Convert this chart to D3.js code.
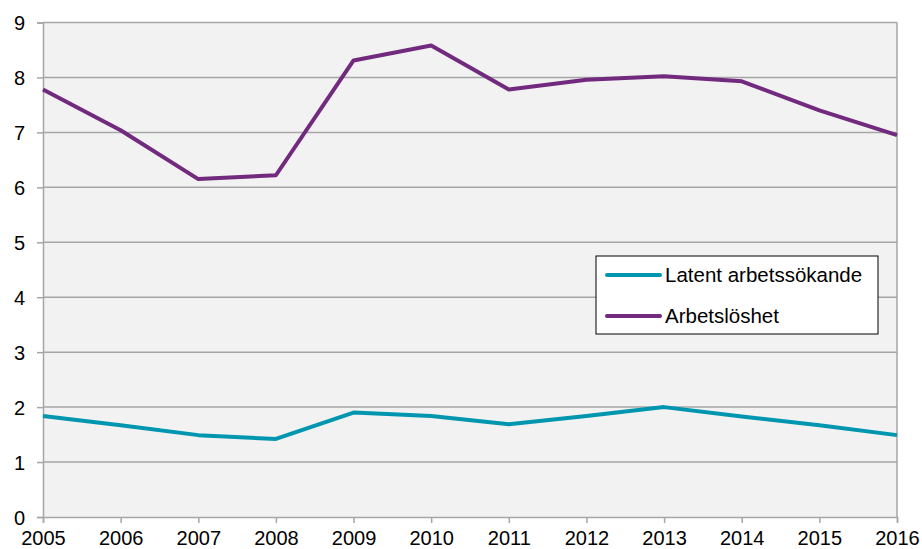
<!DOCTYPE html>
<html>
<head>
<meta charset="utf-8">
<script src="https://cdn.jsdelivr.net/npm/d3@7"></script>
<style>
  body { margin: 0; background: #fff; }
  text { font-family: "Liberation Sans", Arial, sans-serif; }
</style>
</head>
<body>
<svg id="chart" width="922" height="549"></svg>
<script>
// data
var years = [2005, 2006, 2007, 2008, 2009, 2010, 2011, 2012, 2013, 2014, 2015, 2016];
var latent = [1.84, 1.67, 1.49, 1.42, 1.90, 1.84, 1.69, 1.84, 2.00, 1.83, 1.67, 1.49];
var arbetsloshet = [7.78, 7.04, 6.15, 6.22, 8.31, 8.58, 7.78, 7.96, 8.02, 7.93, 7.40, 6.95];
var yTicks = [0, 1, 2, 3, 4, 5, 6, 7, 8, 9];
var seriesNames = ["Latent arbetssökande", "Arbetslöshet"];
var seriesColors = ["#0096b0", "#722a7e"];

var margin = {top: 22.5, right: 25, bottom: 32, left: 43};
var width = 922 - margin.left - margin.right,
    height = 549 - margin.top - margin.bottom;

var svg = d3.select("#chart");
var g = svg.append("g")
    .attr("transform", "translate(" + margin.left + "," + margin.top + ")");

var x = d3.scalePoint().domain(years).range([0, width]);
var y = d3.scaleLinear().domain([0, 9]).range([height, 0]);

// plot background
g.append("rect")
    .attr("width", width)
    .attr("height", height)
    .attr("fill", "#f2f2f2");

// gridlines
g.selectAll(".grid")
    .data(yTicks.filter(function(d) { return d > 0; }))
    .enter().append("line")
    .attr("x1", 0)
    .attr("x2", width)
    .attr("y1", function(d) { return y(d); })
    .attr("y2", function(d) { return y(d); })
    .attr("stroke", "#a6a6a6")
    .attr("stroke-width", 1.5);

// right border
g.append("line")
    .attr("x1", width).attr("x2", width)
    .attr("y1", 0).attr("y2", height)
    .attr("stroke", "#a6a6a6").attr("stroke-width", 1.5);

// y axis
var yAxis = g.append("g")
    .call(d3.axisLeft(y).tickValues(yTicks).tickSize(6).tickPadding(12).tickFormat(d3.format("d")));

// x axis
var xAxis = g.append("g")
    .attr("transform", "translate(0," + height + ")")
    .call(d3.axisBottom(x).tickSize(6).tickPadding(8).tickFormat(d3.format("d")));

[yAxis, xAxis].forEach(function(ax) {
    ax.select(".domain").attr("stroke", "#a6a6a6").attr("stroke-width", 1.5);
    ax.selectAll(".tick line").attr("stroke", "#a6a6a6").attr("stroke-width", 1.5);
    ax.selectAll("text")
        .attr("fill", "#000")
        .style("font-size", "20px")
        .style("font-family", "'Liberation Sans', Arial, sans-serif");
});
yAxis.selectAll("text").attr("dy", "0.36em");

// lines
var line = d3.line()
    .x(function(d, i) { return x(years[i]); })
    .y(function(d) { return y(d); });

[latent, arbetsloshet].forEach(function(vals, i) {
    g.append("path")
        .datum(vals)
        .attr("fill", "none")
        .attr("stroke", seriesColors[i])
        .attr("stroke-width", 4)
        .attr("stroke-linejoin", "round")
        .attr("d", line);
});

// legend
var legend = svg.append("g").attr("transform", "translate(596,256)");
legend.append("rect")
    .attr("width", 282)
    .attr("height", 78)
    .attr("fill", "#fff")
    .attr("stroke", "#000")
    .attr("stroke-width", 1);

seriesNames.forEach(function(name, i) {
    var row = legend.append("g").attr("transform", "translate(0," + (19 + i * 41) + ")");
    row.append("line")
        .attr("x1", 11).attr("x2", 64)
        .attr("y1", 0).attr("y2", 0)
        .attr("stroke", seriesColors[i])
        .attr("stroke-width", 4)
        .attr("stroke-linecap", "round");
    row.append("text")
        .attr("x", 69)
        .attr("y", 0)
        .attr("dy", "0.36em")
        .style("font-size", "20.5px")
        .text(name);
});
</script>
</body>
</html>
